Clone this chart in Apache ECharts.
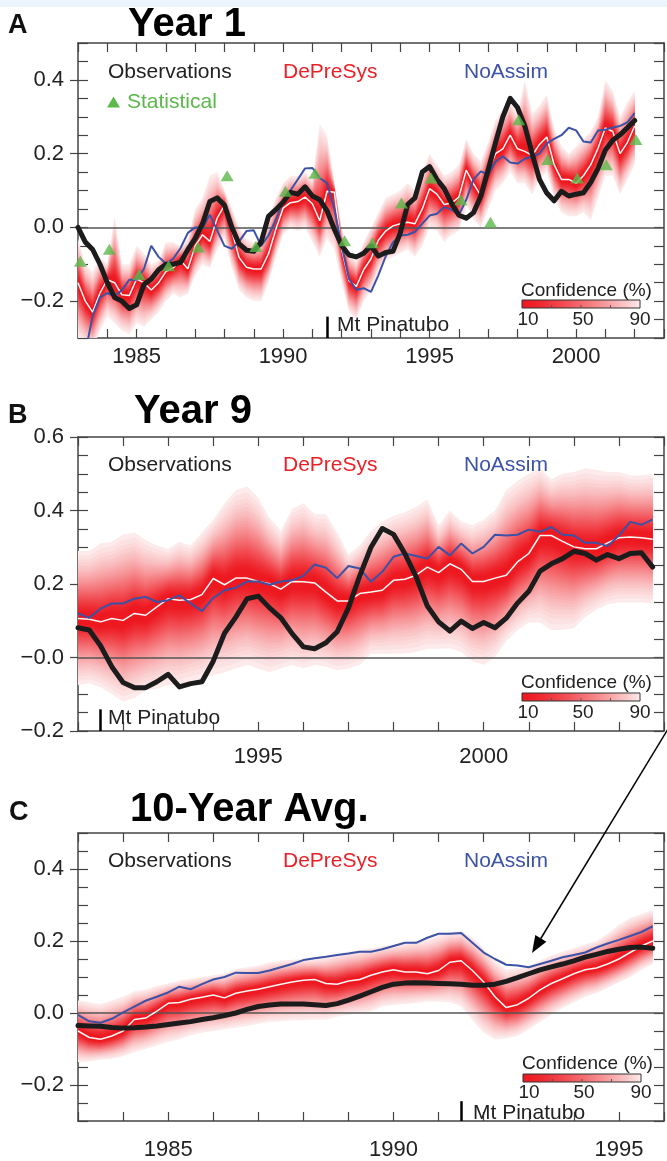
<!DOCTYPE html>
<html><head><meta charset="utf-8">
<script src="https://cdn.jsdelivr.net/npm/echarts@6/dist/echarts.min.js"></script>
<style>html,body{margin:0;padding:0;background:#fff}#c{width:667px;height:1161px}</style>
</head><body><div id="c"></div><script>
const FONT = '"Liberation Sans", Arial, Helvetica, sans-serif';

// ---------- Panel A : Year 1 (quarterly from 1983.0) ----------
const startA = 1983.0;
const obsA = [0.00,-0.04,-0.06,-0.10, -0.15,-0.19,-0.20,-0.22, -0.21,-0.155,-0.14,-0.115, -0.10,-0.10,-0.095,-0.06,
  -0.03,0.01,0.07,0.08, 0.06,0.00,-0.045,-0.062, -0.065,-0.04,0.03,0.048, 0.068,0.095,0.09,0.11,
  0.085,0.075,0.045,-0.005, -0.05,-0.075,-0.08,-0.07, -0.05,-0.078,-0.068,-0.065, -0.015,0.062,0.08,0.15,
  0.165,0.13,0.105,0.065, 0.033,0.025,0.04,0.085, 0.156,0.23,0.30,0.35, 0.325,0.275,0.20,0.13,
  0.093,0.072,0.098,0.085, 0.09,0.094,0.122,0.16, 0.21,0.236,0.251,0.27, 0.29];
const depresysA = [-0.15,-0.20,-0.23,-0.178, -0.142,-0.15,-0.183,-0.185, -0.14,-0.15,-0.17,-0.15, -0.12,-0.11,-0.09,-0.112,
  -0.05,-0.02,-0.038,0.025, 0.06,-0.01,-0.082,-0.108, -0.113,-0.113,-0.072,-0.006, 0.052,0.067,0.07,0.082,
  0.064,0.018,0.098,0.095, -0.06,-0.145,-0.16,-0.115, -0.085,-0.035,-0.01,0.004, 0.01,0.014,0.01,0.05,
  0.105,0.09,0.062,0.066, 0.082,0.155,0.118,0.086, 0.15,0.20,0.213,0.25, 0.213,0.206,0.195,0.225,
  0.245,0.17,0.13,0.13, 0.12,0.14,0.17,0.215, 0.27,0.26,0.20,0.23, 0.275];
const hiA = [-0.03,-0.10,-0.12,-0.08, -0.10,0.03,-0.10,-0.10, -0.05,-0.07,-0.10,-0.09, -0.04,-0.04,-0.05,-0.03,
  0.05,0.08,0.14,0.15, 0.10,0.05,0.00,-0.03, -0.04,-0.03,0.02,0.08, 0.12,0.14,0.14,0.15,
  0.13,0.28,0.25,0.12, 0.00,-0.07,-0.09,-0.04, 0.00,0.04,0.08,0.09, 0.10,0.12,0.10,0.15,
  0.20,0.17,0.14,0.15, 0.17,0.24,0.20,0.18, 0.23,0.29,0.32,0.34, 0.31,0.40,0.31,0.33,
  0.36,0.27,0.22,0.20, 0.22,0.24,0.26,0.30, 0.40,0.37,0.30,0.34, 0.37];
const loA = [-0.30,-0.32,-0.33,-0.28, -0.24,-0.26,-0.28,-0.29, -0.26,-0.27,-0.25,-0.23, -0.20,-0.18,-0.19,-0.18,
  -0.13,-0.10,-0.11,-0.06, -0.03,-0.11,-0.17,-0.19, -0.20,-0.20,-0.15,-0.08, -0.02,0.00,-0.01,0.00,
  -0.04,-0.08,-0.03,-0.06, -0.15,-0.23,-0.25,-0.20, -0.17,-0.12,-0.09,-0.08, -0.07,-0.06,-0.08,-0.05,
  0.00,-0.01,-0.04,-0.02, -0.01,0.06,0.02,0.00, 0.05,0.10,0.12,0.15, 0.12,0.12,0.09,0.13,
  0.15,0.08,0.04,0.03, 0.03,0.04,0.02,0.08, 0.14,0.14,0.09,0.13, 0.17];
const startNoAssimA = 1983.25;
const noAssimA = [-0.34,-0.24,-0.19, -0.178,-0.187,-0.17,-0.142, -0.142,-0.113,-0.05,-0.08, -0.098,-0.085,-0.056,-0.015,
  0.0,-0.002,0.034,-0.008, -0.05,-0.058,-0.038,-0.01, -0.008,-0.05,-0.022,0.02, 0.072,0.10,0.13,0.16,
  0.161,0.134,0.12,0.05, -0.05,-0.14,-0.169,-0.165, -0.175,-0.13,-0.079,-0.04, -0.022,-0.02,-0.012,0.01,
  0.032,0.037,0.055,0.048, 0.034,0.075,0.13,0.152, 0.143,0.178,0.193,0.176, 0.173,0.186,0.192,0.20,
  0.228,0.24,0.25,0.27, 0.263,0.233,0.23,0.263, 0.265,0.271,0.275,0.285, 0.31];
const statYearsA = [1983.08,1984.07,1985.08,1986.09,1987.10,1988.09,1989.07,1990.08,1991.09,1992.10,
  1993.05,1994.04,1995.05,1996.07,1997.08,1998.04,1999.03,2000.04,2001.03,2002.04];
const statA = [-0.092,-0.059,-0.128,-0.104,-0.053,0.140,-0.052,0.098,0.147,-0.036,
  -0.042,0.066,0.134,0.075,0.014,0.292,0.184,0.134,0.170,0.238];

// ---------- Panel B : Year 9 (quarterly from 1991.0) ----------
const startB = 1991.0;
const obsB = [0.081,0.075,0.032,-0.025, -0.068,-0.082,-0.082,-0.066, -0.046,-0.08,-0.071,-0.066, -0.01,0.066,0.11,0.16,
  0.167,0.135,0.108,0.065, 0.029,0.024,0.04,0.07, 0.135,0.222,0.30,0.351, 0.335,0.283,0.22,0.14,
  0.097,0.072,0.099,0.079, 0.095,0.081,0.107,0.148, 0.18,0.235,0.255,0.269, 0.289,0.283,0.265,0.28,
  0.269,0.283,0.285,0.246];
const noAssimB = [0.12,0.108,0.133,0.147, 0.147,0.16,0.165,0.151, 0.156,0.169,0.147,0.126, 0.162,0.183,0.19,0.207,
  0.207,0.198,0.207,0.21, 0.222,0.253,0.244,0.216, 0.249,0.242,0.206,0.233, 0.274,0.283,0.276,0.269,
  0.301,0.278,0.31,0.283, 0.301,0.334,0.332,0.334, 0.348,0.342,0.355,0.334, 0.332,0.312,0.312,0.303,
  0.332,0.369,0.361,0.376];
const depresysB = [0.106,0.104,0.097,0.106, 0.101,0.12,0.115,0.138, 0.16,0.156,0.158,0.171, 0.215,0.198,0.216,0.216,
  0.207,0.201,0.186,0.207, 0.206,0.203,0.178,0.154, 0.154,0.174,0.178,0.183, 0.21,0.213,0.224,0.246,
  0.231,0.255,0.24,0.207, 0.207,0.216,0.224,0.26, 0.283,0.332,0.332,0.316, 0.301,0.296,0.296,0.312,
  0.326,0.328,0.326,0.322];
const hiB = [0.29,0.29,0.31,0.315, 0.335,0.34,0.32,0.305, 0.295,0.315,0.305,0.34, 0.375,0.42,0.455,0.465,
  0.435,0.38,0.345,0.405, 0.42,0.39,0.39,0.34, 0.28,0.305,0.345,0.37, 0.385,0.395,0.41,0.43,
  0.36,0.40,0.37,0.36, 0.375,0.40,0.455,0.48, 0.50,0.515,0.485,0.50, 0.505,0.515,0.51,0.505,
  0.505,0.495,0.495,0.50];
const loB = [-0.075,-0.07,-0.08,-0.10, -0.12,-0.11,-0.09,-0.085, -0.075,-0.075,-0.065,-0.057, -0.048,-0.04,-0.03,-0.02,
  -0.03,-0.04,-0.03,-0.02, -0.03,-0.02,-0.025,-0.035, -0.03,-0.02,0.01,0.01, 0.01,0.011,0.015,0.024,
  0.024,0.025,0.015,-0.01, -0.02,0.0,0.045,0.075, 0.095,0.095,0.075,0.075, 0.08,0.11,0.13,0.145,
  0.15,0.15,0.15,0.147];

// ---------- Panel C : 10-year average (quarterly from 1983.0) ----------
const startC = 1983.0;
const obsC = [-0.035,-0.036,-0.037,-0.040, -0.042,-0.041,-0.039,-0.036, -0.032,-0.028,-0.024,-0.018, -0.013,-0.007,0.000,0.010,
  0.018,0.022,0.025,0.025, 0.025,0.023,0.021,0.026, 0.036,0.047,0.059,0.071, 0.080,0.083,0.084,0.083,
  0.082,0.081,0.080,0.077, 0.077,0.080,0.088,0.098, 0.109,0.120,0.128,0.136, 0.145,0.155,0.163,0.171,
  0.177,0.182,0.183,0.180];
const noAssimC = [-0.005,-0.023,-0.027,-0.016, 0.002,0.018,0.034,0.045, 0.057,0.073,0.066,0.08, 0.093,0.10,0.112,0.111,
  0.111,0.118,0.127,0.136, 0.147,0.152,0.156,0.161, 0.165,0.17,0.17,0.177, 0.186,0.195,0.195,0.209,
  0.22,0.22,0.222,0.195, 0.168,0.15,0.134,0.132, 0.127,0.136,0.145,0.155, 0.161,0.168,0.182,0.193,
  0.203,0.214,0.225,0.241];
const depresysC = [-0.05,-0.068,-0.073,-0.064, -0.05,-0.018,-0.014,0.005, 0.027,0.029,0.038,0.044, 0.05,0.042,0.055,0.061,
  0.066,0.073,0.08,0.086, 0.091,0.093,0.082,0.08, 0.089,0.093,0.105,0.114, 0.12,0.114,0.114,0.109,
  0.118,0.141,0.145,0.118, 0.086,0.045,0.015,0.023, 0.041,0.064,0.082,0.095, 0.109,0.12,0.125,0.136,
  0.15,0.168,0.186,0.20];
const hiC = [0.035,0.03,0.025,0.035, 0.045,0.06,0.065,0.075, 0.082,0.09,0.095,0.10, 0.105,0.11,0.122,0.127,
  0.132,0.14,0.145,0.148, 0.15,0.15,0.155,0.164, 0.17,0.175,0.18,0.186, 0.19,0.195,0.20,0.205,
  0.215,0.225,0.227,0.21, 0.18,0.145,0.12,0.125, 0.13,0.145,0.16,0.17, 0.18,0.19,0.20,0.22,
  0.245,0.264,0.275,0.286];
const loC = [-0.136,-0.135,-0.13,-0.127, -0.12,-0.109,-0.10,-0.09, -0.08,-0.073,-0.062,-0.055, -0.05,-0.045,-0.04,-0.036,
  -0.03,-0.025,-0.023,-0.02, -0.02,-0.018,-0.018,-0.01, -0.005,0.0,0.005,0.018, 0.022,0.025,0.028,0.032,
  0.032,0.03,0.018,-0.02, -0.055,-0.073,-0.07,-0.064, -0.045,-0.025,-0.005,0.014, 0.03,0.045,0.055,0.07,
  0.085,0.10,0.12,0.136];

// Eruption marker and tick label text
const pinatuboYear = 1991.5;
const xLabelsA = [1985, 1990, 1995, 2000];
const xLabelsB = [1995, 2000];
const xLabelsC = [1985, 1990, 1995];
const yMajorA = [-0.2, 0, 0.2, 0.4];
const yMajorB = [-0.2, 0, 0.2, 0.4, 0.6];
const yMajorC = [-0.2, 0, 0.2, 0.4];

// Confidence levels (%) with Gaussian half-width ratio relative to the 90% bound
const RATIO_TABLE = {10:0.0764,15:0.115,20:0.154,25:0.194,30:0.234,35:0.276,40:0.319,45:0.363,50:0.410,
  55:0.459,60:0.512,65:0.568,70:0.630,75:0.699,80:0.779,85:0.875,90:1.0};
const LEVELS = [];
for (let p = 90; p >= 10 - 1e-9; p -= 2.5) LEVELS.push(+p.toFixed(1));
function ratio(p) {
  const a = Math.floor(p / 5) * 5, b = Math.min(90, a + 5);
  if (a === b || RATIO_TABLE[b] === undefined) return RATIO_TABLE[a];
  return RATIO_TABLE[a] + (RATIO_TABLE[b] - RATIO_TABLE[a]) * (p - a) / 5;
}
function bandColor(p) {
  const f = Math.pow(Math.max(0, (p - 10) / 80), 1.35);
  const c0 = [237, 24, 32], c1 = [253, 234, 234];
  const c = c0.map((v, i) => Math.round(v + (c1[i] - v) * f));
  return 'rgb(' + c.join(',') + ')';
}
const quarterly = (start, n) => Array.from({length: n}, (_, i) => +(start + i * 0.25).toFixed(2));
const pairs = (t, v) => t.map((x, i) => [x, v[i]]);

const BLACK = '#1c1c1c', BLUE = '#3b52a6', RED = '#ec2027', GREEN = '#5bb84a', AX = '#444';

const grids = [
  {left: 78, top: 43, width: 592, height: 295},
  {left: 78, top: 437, width: 592, height: 294},
  {left: 78, top: 833, width: 592, height: 294}
];
const xAxes = [], yAxes = [], series = [];

function yFmt(zeroLabel) {
  return v => {
    const k = Math.round(v * 100);
    if (k % 20 !== 0) return '';
    if (k === 0) return zeroLabel;
    return (k < 0 ? '\u2212' : '') + (Math.abs(k) / 100).toFixed(1);
  };
}

function addAxes(g, xmin, xmax, ymin, ymax, xLabels, yMajor, zeroLabel, xMargin) {
  const line = {show: true, onZero: false, lineStyle: {color: AX, width: 1.5}};
  const tick = {show: true, inside: true, length: 9, lineStyle: {color: AX, width: 1.2}};
  xAxes.push({gridIndex: g, type: 'value', position: 'bottom', min: xmin, max: xmax, interval: 1,
    axisLine: line, axisTick: tick, splitLine: {show: false},
    axisLabel: {fontSize: 22, color: '#222', fontFamily: FONT, margin: xMargin,
      formatter: v => xLabels.indexOf(Math.round(v)) >= 0 && Math.abs(v - Math.round(v)) < 1e-6 ? String(Math.round(v)) : ''}});
  xAxes.push({gridIndex: g, type: 'value', position: 'top', min: xmin, max: xmax, interval: 1,
    axisLine: line, axisTick: tick, splitLine: {show: false}, axisLabel: {show: false}});
  yAxes.push({gridIndex: g, type: 'value', position: 'left', min: ymin, max: ymax, interval: 0.05,
    axisLine: line, axisTick: Object.assign({}, tick, {length: 10}), splitLine: {show: false},
    axisLabel: {fontSize: 22, color: '#222', fontFamily: FONT, margin: 14, formatter: yFmt(zeroLabel)}});
  yAxes.push({gridIndex: g, type: 'value', position: 'right', min: ymin, max: ymax, interval: 0.05,
    axisLine: line, axisTick: Object.assign({}, tick, {length: 10}), splitLine: {show: false}, axisLabel: {show: false}});
  yAxes.push({gridIndex: g, type: 'value', position: 'left', min: ymin, max: ymax, interval: 0.05,
    axisLine: {show: false, onZero: false}, splitLine: {show: false}, axisLabel: {show: false},
    axisTick: {show: true, inside: false, length: 8, customValues: yMajor, lineStyle: {color: AX, width: 1.2}}});
}

function addPanel(g, t, mean, lo, hi, obs, tBlue, blue, pinY0, pinY1) {
  const xi = g * 2, yi = g * 3;
  // nested confidence bands, widest (lightest) first
  series.push({type: 'custom', coordinateSystem: 'cartesian2d', xAxisIndex: xi, yAxisIndex: yi,
    clip: true, silent: true, z: 2,
    data: LEVELS.map(() => [t[0], mean[0]]),
    renderItem: (params, api) => {
      const p = LEVELS[params.dataIndex], r = ratio(p);
      const upper = t.map((x, i) => api.coord([x, mean[i] + r * (hi[i] - mean[i])]));
      const lower = t.map((x, i) => api.coord([x, mean[i] - r * (mean[i] - lo[i])])).reverse();
      return {type: 'polygon', shape: {points: upper.concat(lower)}, style: {fill: bandColor(p)}};
    }});
  series.push({type: 'line', xAxisIndex: xi, yAxisIndex: yi, data: pairs(t, mean), symbol: 'none',
    lineStyle: {color: '#fff6f6', width: 1.5}, silent: true, z: 6,
    markLine: {silent: true, symbol: ['none', 'none'], label: {show: false}, animation: false,
      data: [
        {yAxis: 0, lineStyle: {color: '#555', width: 1.5, type: 'solid'}},
        [{coord: [pinatuboYear, pinY0], lineStyle: {color: '#000', width: 2.5, type: 'solid'}},
         {coord: [pinatuboYear, pinY1], lineStyle: {color: '#000', width: 2.5, type: 'solid'}}]
      ]}});
  series.push({type: 'line', xAxisIndex: xi, yAxisIndex: yi, data: pairs(tBlue, blue), symbol: 'none',
    lineStyle: {color: BLUE, width: 2}, silent: true, z: 7});
  series.push({type: 'line', xAxisIndex: xi, yAxisIndex: yi, data: pairs(t, obs), symbol: 'none',
    lineStyle: {color: BLACK, width: 5, join: 'round', cap: 'round'}, silent: true, z: 8});
}

addAxes(0, 1983, 2003, -0.3, 0.5, xLabelsA, yMajorA, '0.0', 8);
addAxes(1, 1991, 2004, -0.2, 0.6, xLabelsB, yMajorB, '\u22120.0', 15);
addAxes(2, 1983, 1996, -0.3, 0.5, xLabelsC, yMajorC, '0.0', 18);

const tA = quarterly(startA, obsA.length);
const tBlueA = quarterly(startNoAssimA, noAssimA.length);
const tB = quarterly(startB, obsB.length);
const tC = quarterly(startC, obsC.length);
addPanel(0, tA, depresysA, loA, hiA, obsA, tBlueA, noAssimA, -0.3, -0.242);
addPanel(1, tB, depresysB, loB, hiB, obsB, tB, noAssimB, -0.2, -0.141);
addPanel(2, tC, depresysC, loC, hiC, obsC, tC, noAssimC, -0.3, -0.245);

series.push({type: 'scatter', xAxisIndex: 0, yAxisIndex: 0, data: pairs(statYearsA, statA),
  symbol: 'triangle', symbolSize: [13, 11], itemStyle: {color: GREEN}, silent: true, z: 9});

// ---------- graphic annotations ----------
const graphic = [];
function txt(x, y, text, size, color, weight, align) {
  graphic.push({type: 'text', x, y, silent: true, z: 20, style: {text, fill: color,
    font: (weight || 'normal') + ' ' + size + 'px ' + FONT, align: align || 'left', verticalAlign: 'middle',
    textAlign: align || 'left', textVerticalAlign: 'middle'}});
}
graphic.push({type: 'rect', shape: {x: 0, y: 0, width: 667, height: 7}, style: {fill: '#edf5fc'}, silent: true});

function legendRow(y) {
  txt(108, y, 'Observations', 21, '#222');
  txt(283, y, 'DePreSys', 21, RED);
  txt(464, y, 'NoAssim', 21, BLUE);
}
function colorbar(x, yText, yBar, yLab) {
  txt(x - 1, yText, 'Confidence (%)', 19, '#222');
  const stops = LEVELS.slice().reverse().map(p => ({offset: (p - 10) / 80, color: bandColor(p)}));
  stops[stops.length - 1] = {offset: 1, color: '#fff6f6'};
  graphic.push({type: 'rect', z: 20, silent: true, shape: {x: x, y: yBar, width: 118, height: 8},
    style: {fill: new echarts.graphic.LinearGradient(0, 0, 1, 0, stops), stroke: '#333', lineWidth: 1}});
  [0.25, 0.5, 0.75].forEach(f => graphic.push({type: 'line', z: 21, silent: true,
    shape: {x1: x + 118 * f, y1: yBar + 8, x2: x + 118 * f, y2: yBar + 5}, style: {stroke: '#555', lineWidth: 1}}));
  txt(x + 6, yLab, '10', 19, '#222', 'normal', 'center');
  txt(x + 61, yLab, '50', 19, '#222', 'normal', 'center');
  txt(x + 118, yLab, '90', 19, '#222', 'normal', 'center');
}

// Panel A
txt(8, 26, 'A', 27, '#111', 'bold');
txt(128, 25, 'Year 1', 40, '#000', 'bold');
legendRow(72);
graphic.push({type: 'polygon', z: 20, silent: true, shape: {points: [[113.5, 96.5], [107, 107.5], [120, 107.5]]}, style: {fill: GREEN}});
txt(127, 102, 'Statistical', 21, GREEN);
txt(337, 325, 'Mt Pinatubo', 21, '#222');
colorbar(522, 291, 300, 320);

// Panel B
txt(8, 416, 'B', 27, '#111', 'bold');
txt(134, 412, 'Year 9', 40, '#000', 'bold');
legendRow(465);
txt(108, 718, 'Mt Pinatubo', 21, '#222');
colorbar(522, 683, 693, 713);

// Panel C
txt(9, 813, 'C', 27, '#111', 'bold');
txt(130, 810, '10-Year Avg.', 40, '#000', 'bold');
legendRow(861);
txt(473, 1113, 'Mt Pinatubo', 21, '#222');
colorbar(523, 1064, 1074, 1093);

// Arrow from panel B corner to panel C dip
graphic.push({type: 'line', z: 20, silent: true, shape: {x1: 668, y1: 729, x2: 540.8, y2: 938.5}, style: {stroke: '#000', lineWidth: 1.5}});
graphic.push({type: 'polygon', z: 20, silent: true, shape: {points: [[532, 953], [546.4, 941.8], [535.3, 935.1]]}, style: {fill: '#000'}});

const chart = echarts.init(document.getElementById('c'), null, {renderer: 'canvas'});
chart.setOption({animation: false, backgroundColor: '#fff', grid: grids, xAxis: xAxes, yAxis: yAxes, series, graphic});
</script></body></html>
